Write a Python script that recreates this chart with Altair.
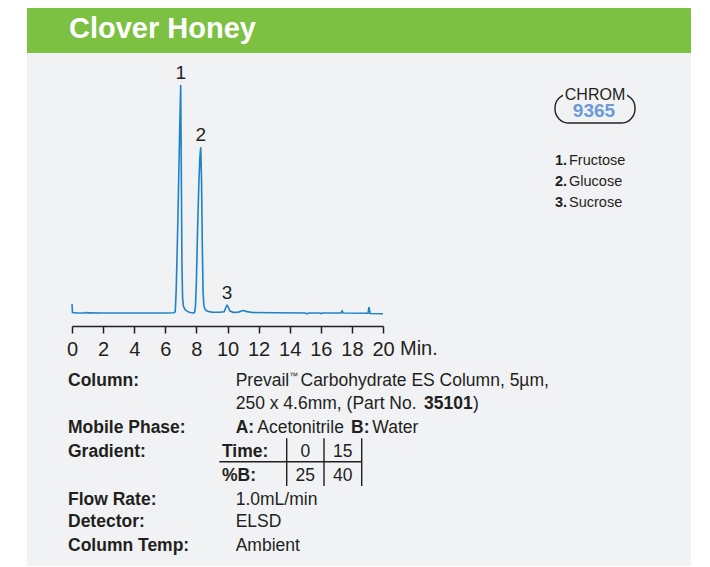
import altair as alt
import pandas as pd

# ---------------- data ----------------
# chromatogram trace: retention time (min) and relative detector response
trace_time = [0.00, 0.03, 0.30, 0.85, 0.92, 1.00, 2.00, 4.00, 6.00, 6.55,
              6.64, 6.70, 6.78, 6.86, 6.93, 6.99, 7.03, 7.07, 7.11, 7.16,
              7.25, 7.40, 7.60, 7.80, 7.88, 7.94, 8.00, 8.07, 8.15, 8.22,
              8.28, 8.33, 8.38, 8.43, 8.48, 8.56, 8.70, 9.00, 9.50, 9.78,
              9.88, 9.97, 10.05, 10.15, 10.35, 10.70, 10.90, 11.05, 11.25, 11.60,
              13.00, 15.00, 15.12, 15.22, 15.95, 16.02, 16.10, 17.30, 17.37, 17.44,
              19.04, 19.10, 19.17, 20.00]
trace_signal = [3.9, 0.2, 0.0, 0.0, 0.3, 0.05, 0.0, 0.0, 0.0, 0.1,
                0.5, 10.0, 32.0, 58.0, 82.0, 100.0, 62.0, 22.0, 7.0, 3.2,
                1.6, 0.7, 0.2, 0.0, 0.2, 3.0, 14.0, 35.0, 55.0, 68.0,
                72.7, 58.0, 30.0, 9.0, 3.2, 1.6, 0.8, 0.4, 0.3, 0.5,
                2.2, 3.4, 2.6, 0.9, 0.3, 0.4, 0.9, 1.1, 0.6, 0.2,
                0.1, 0.0, -0.4, 0.0, 0.0, -0.3, 0.0, 0.0, 0.9, 0.0,
                -0.1, 2.6, -0.2, -0.3]

peak_labels = ["1", "2", "3"]
peak_times = [6.99, 8.28, 9.97]
peak_heights = [100.0, 72.7, 3.4]

compounds = ["Fructose", "Glucose", "Sucrose"]

x_ticks = [0, 2, 4, 6, 8, 10, 12, 14, 16, 18, 20]

grad_times = ["0", "15"]
grad_pct_b = ["25", "40"]

title_text = "Clover Honey"
chrom_no = "9365"

# ---------------- styling ----------------
FONT = "Liberation Sans"
INK = "#231f20"
GREEN = "#7cc142"
PANEL = "#f1f2f4"
TRACE = "#1f82c9"
BADGE_BLUE = "#6b9bd6"
FS = 17.5

ONE = pd.DataFrame({"k": [0]})


def text(s, x, y, size=FS, bold=False, color=INK, align="left"):
    return alt.Chart(ONE).mark_text(
        text=s, font=FONT, fontSize=size,
        fontWeight="bold" if bold else "normal",
        color=color, align=align, baseline="alphabetic",
    ).encode(x=alt.value(x), y=alt.value(y))


def box(x, x2, y, y2, **kw):
    return alt.Chart(ONE).mark_rect(**kw).encode(
        x=alt.value(x), x2=alt.value(x2), y=alt.value(y), y2=alt.value(y2))


def rule(x, x2, y, y2, **kw):
    return alt.Chart(ONE).mark_rule(color=INK, strokeWidth=1.4, **kw).encode(
        x=alt.value(x), x2=alt.value(x2), y=alt.value(y), y2=alt.value(y2))


trace_df = pd.DataFrame({"time": trace_time, "signal": trace_signal})
peaks_df = pd.DataFrame({"time": peak_times, "height": peak_heights, "label": peak_labels})

xs = alt.Scale(domain=[0, 20], nice=False, zero=False)
ys = alt.Scale(domain=[-5.7, 100], nice=False, zero=False)
x_axis = alt.Axis(values=x_ticks, title=None, grid=False, zindex=1,
                  domainColor=INK, domainWidth=1.5, tickColor=INK, tickWidth=1.5,
                  tickSize=7, labelFont=FONT, labelFontSize=20, labelColor=INK,
                  labelPadding=22, labelBaseline="alphabetic", labelFlush=False,
                  labelOverlap=False, format="d")

line = alt.Chart(trace_df).mark_line(color=TRACE, strokeWidth=1.6).encode(
    x=alt.X("time:Q", scale=xs, axis=x_axis),
    y=alt.Y("signal:Q", scale=ys, axis=None),
)

peak_text = alt.Chart(peaks_df).mark_text(
    dy=-6, font=FONT, fontSize=19, color=INK, baseline="alphabetic"
).encode(
    x=alt.X("time:Q", scale=xs, axis=x_axis),
    y=alt.Y("height:Q", scale=ys, axis=None),
    text="label:N",
)

layers = [
    box(-45, 619, -32, 497, color=PANEL),
    box(-45, 619, -95, -32, color=GREEN),
    text(title_text, -3, -47, size=29, bold=True, color="white"),
    line,
    peak_text,
    text("Min.", 328, 270, size=20),
    # CHROM badge
    box(483, 563, 9, 38, filled=False, stroke=INK, strokeWidth=1.4, cornerRadius=14),
    box(491, 555, 3, 13, color=PANEL),
    text("CHROM", 523, 14.5, size=16, align="center"),
    text(chrom_no, 522, 32, size=19, bold=True, color=BADGE_BLUE, align="center"),
]

# compound legend
for i, name in enumerate(compounds):
    y = 79.5 + i * 21
    layers.append(text(f"{i + 1}.", 483, y, size=14.5, bold=True))
    layers.append(text(name, 497, y, size=14.5))

# method details
LX, VX = -4, 163.7
layers += [
    text("Column:", LX, 301, bold=True),
    text("Prevail", VX, 301),
    text("\u2122", 217.3, 294, size=9),
    text("Carbohydrate ES Column, 5\u00b5m,", 228.5, 301),
    text("250 x 4.6mm, (Part No.", VX, 324.3),
    text("35101", 352, 324.3, bold=True),
    text(")", 401, 324.3),
    text("Mobile Phase:", LX, 347.7, bold=True),
    text("A:", VX, 347.7, bold=True),
    text("Acetonitrile", 185.3, 347.7),
    text("B:", 279, 347.7, bold=True),
    text("Water", 300.3, 347.7),
    text("Gradient:", LX, 371.7, bold=True),
    text("Time:", 150, 371.7, bold=True),
    text("%B:", 150, 395.7, bold=True),
    text("Flow Rate:", LX, 420, bold=True),
    text("1.0mL/min", VX, 420),
    text("Detector:", LX, 442.3, bold=True),
    text("ELSD", VX, 442.3),
    text("Column Temp:", LX, 465.7, bold=True),
    text("Ambient", VX, 465.7),
    # gradient table grid
    rule(147.3, 289.7, 376.7, 376.7),
    rule(214.7, 214.7, 353.3, 401),
    rule(252, 252, 353.3, 401),
    rule(289.7, 289.7, 353.3, 401),
]
col_centers = [233.3, 270.7]
for c, t, b in zip(col_centers, grad_times, grad_pct_b):
    layers.append(text(t, c, 371.7, align="center"))
    layers.append(text(b, c, 395.7, align="center"))

chart = alt.layer(*layers).properties(
    width=311,
    height=241,
    autosize=alt.AutoSizeParams(type="none"),
    padding={"left": 64, "top": 77, "right": 319, "bottom": 240},
    background="white",
).configure_view(stroke=None)

chart.save("out.html", embed_options={"renderer": "svg", "actions": False})
